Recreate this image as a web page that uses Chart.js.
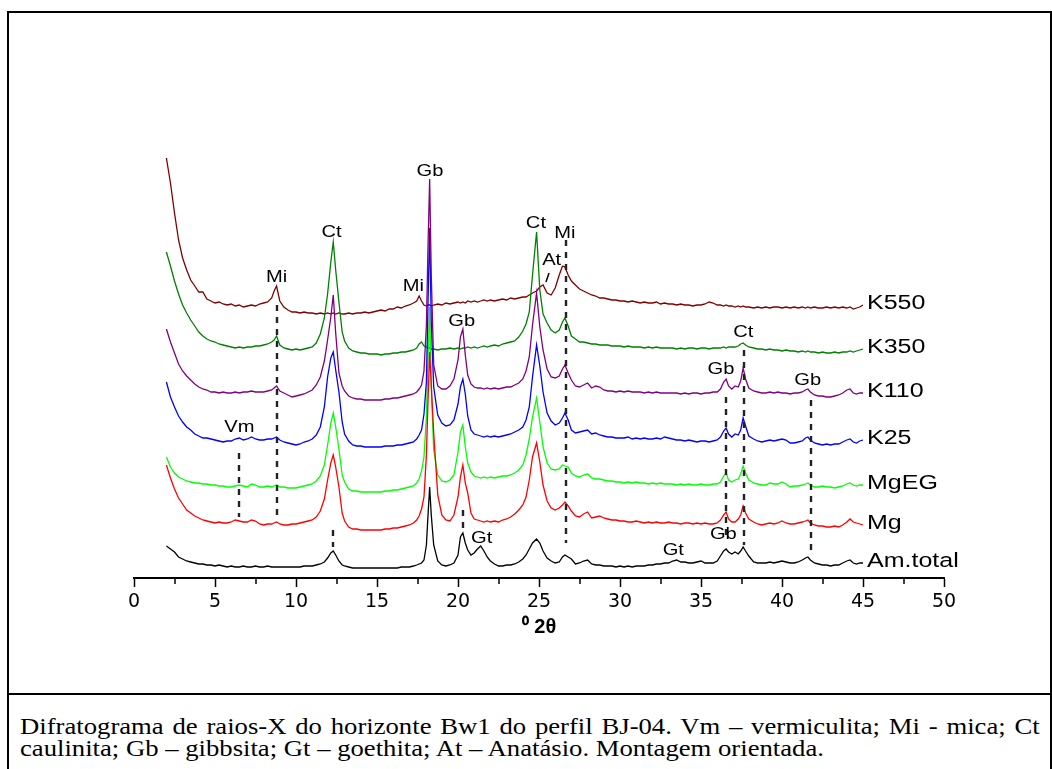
<!DOCTYPE html>
<html>
<head>
<meta charset="utf-8">
<script src="https://cdn.jsdelivr.net/npm/chart.js"></script>
<style>
  body { margin: 0; background: #fff; }
  .frame { position: absolute; left: 7px; top: 11px; width: 1045px; height: 780px; border: 2px solid #000; box-sizing: border-box; }
  .divider { position: absolute; left: 7px; top: 693px; width: 1045px; height: 2px; background: #000; }
  #xrd { position: absolute; left: 0; top: 0; }
  .caption { position: absolute; left: 20px; top: 716px; width: 879px; transform: scaleX(1.16); transform-origin: 0 0;
             font: 23px/22px "Liberation Serif", "Times New Roman", serif; color: #000; }
  .caption .l1 { text-align: justify; text-align-last: justify; }
</style>
</head>
<body>
<div class="frame"></div>
<div class="divider"></div>
<canvas id="xrd" width="1052" height="690"></canvas>
<div class="caption">
  <div class="l1">Difratograma de raios-X do horizonte Bw1 do perfil BJ-04. Vm – vermiculita; Mi - mica; Ct</div>
  <div>caulinita; Gb – gibbsita; Gt – goethita; At – Anatásio. Montagem orientada.</div>
</div>
<script>
// 2θ positions (degrees), shared by every trace
const twoTheta = [
  2.0, 2.25, 2.5, 2.75, 3.0, 3.25, 3.5, 3.75, 4.0, 4.25, 4.5, 4.75,
  5.0, 5.25, 5.5, 5.75, 6.0, 6.25, 6.5, 6.75, 7.0, 7.25, 7.5, 7.75, 8.0, 8.25, 8.5,
  8.65, 8.8, 9.0, 9.25, 9.5, 9.75, 10.0, 10.25, 10.5, 10.75, 11.0, 11.25, 11.5, 11.75,
  11.95, 12.15, 12.3, 12.45, 12.65, 12.85, 13.0, 13.25, 13.5, 13.75,
  14.0, 14.25, 14.5, 14.75, 15.0, 15.25, 15.5, 15.75, 16.0, 16.25, 16.5, 16.75, 17.0, 17.25,
  17.45, 17.6, 17.75, 17.9, 18.05, 18.15, 18.25, 18.35, 18.5, 18.75, 19.0, 19.25, 19.5, 19.75,
  20.0, 20.15, 20.3, 20.45, 20.6, 20.8, 21.0, 21.2, 21.4, 21.6, 21.8, 22.0,
  22.25, 22.5, 22.75, 23.0, 23.25, 23.5, 23.75, 24.0, 24.2, 24.4,
  24.6, 24.85, 25.05, 25.25, 25.5, 25.75, 26.0, 26.25, 26.45, 26.6, 26.8, 27.0,
  27.25, 27.5, 27.75, 28.0, 28.25, 28.5, 28.75, 29.0, 29.25, 29.5, 29.75, 30.0,
  30.25, 30.5, 30.75, 31.0, 31.25, 31.5, 31.75, 32.0, 32.25, 32.5, 32.75, 33.0,
  33.25, 33.5, 33.75, 34.0, 34.25, 34.5, 34.75, 35.0, 35.25, 35.5, 35.75, 36.0,
  36.2, 36.4, 36.55, 36.7, 36.9, 37.1, 37.3, 37.45, 37.6, 37.75, 37.95, 38.25,
  38.5, 38.75, 39.0, 39.25, 39.5, 39.75, 40.0, 40.25, 40.5, 40.75, 41.0, 41.25,
  41.45, 41.6, 41.75, 42.0, 42.25, 42.5, 42.75, 43.0, 43.25, 43.5, 43.75,
  44.0, 44.2, 44.4, 44.6, 44.8, 45.0
];

// intensities above each trace's own baseline
const k550 = [
  155, 130, 100, 73, 55, 43, 33, 27, 21, 21, 14, 12,
  10, 11, 9, 8, 9, 7, 8, 6, 7, 8, 7, 9, 10, 11, 15,
  22, 27, 12, 6, 3, 1, 1, 0, 1, 0, 0, -1, 0, -1,
  0, -1, 0, -1, 0, -1, -1, 0, -1, 0,
  0, 1, 0, 1, 2, 3, 2, 4, 4, 6, 5, 7, 8, 10,
  12, 17, 12, 8, 7, 8, 8, 7, 8, 9, 8, 10, 9, 10,
  11, 10, 11, 10, 12, 11, 12, 11, 12, 13, 12, 13,
  12, 13, 14, 13, 15, 14, 15, 16, 16, 18,
  20, 22, 26, 28, 20, 18, 25, 38, 47, 46, 38, 32,
  28, 24, 22, 20, 18, 17, 15, 15, 14, 13, 13, 12,
  12, 11, 12, 11, 10, 11, 10, 10, 11, 9, 10, 9,
  9, 8, 9, 8, 8, 7, 8, 8, 9, 11, 10, 8,
  8, 7, 8, 7, 7, 6, 7, 6, 7, 6, 6, 5,
  6, 5, 6, 5, 6, 6, 5, 6, 5, 6, 5, 6,
  5, 6, 5, 6, 5, 5, 6, 5, 6, 5, 6,
  5, 6, 4, 5, 6, 8
];
const k350 = [
  98, 84, 69, 56, 45, 37, 30, 24, 18, 14, 11, 9,
  8, 6, 5, 4, 3, 2, 3, 2, 3, 3, 4, 4, 5, 6, 8,
  10, 14, 5, 2, 1, 0, 1, 0, 1, 2, 3, 7, 16, 32,
  56, 88, 108, 80, 48, 18, 9, 2, -1, -2,
  -3, -3, -4, -4, -4, -5, -4, -4, -3, -3, -2, -2, -1, 0,
  2, 6, 8, 4, 3, 2, 2, 1, 1, 0, 1, 1, 2, 1,
  2, 1, 2, 2, 3, 2, 3, 2, 3, 4, 3, 4,
  5, 4, 6, 7, 8, 9, 13, 19, 26, 38,
  75, 118, 60, 36, 27, 20, 17, 20, 28, 32, 24, 14,
  11, 8, 8, 7, 6, 6, 5, 5, 5, 4, 4, 4,
  3, 4, 3, 3, 3, 2, 3, 2, 3, 2, 2, 2,
  2, 1, 2, 1, 2, 2, 1, 2, 2, 1, 2, 2,
  2, 3, 2, 3, 3, 3, 4, 6, 7, 5, 3, 2,
  1, 1, 0, 1, 0, 0, -1, 0, -1, -1, -2, -1,
  -2, -1, -2, -2, -3, -2, -3, -3, -2, -3, -2,
  -2, -1, -2, -1, 0, 1
];
const k110 = [
  66, 53, 42, 31, 24, 19, 15, 11, 8, 6, 5, 3,
  3, 2, 3, 2, 2, 3, 2, 3, 3, 4, 3, 3, 3, 4, 5,
  7, 9, 4, 2, 0, -2, -1, 0, 1, 3, 5, 10, 18, 34,
  55, 78, 100, 62, 22, 9, 4, -1, -3, -4,
  -4, -5, -5, -5, -5, -5, -4, -4, -3, -3, -2, -1, 0, 1,
  3, 6, 10, 24, 70, 150, 216, 120, 30, 9, 6, 6, 9, 16,
  35, 58, 66, 40, 20, 11, 8, 7, 7, 6, 7, 6,
  7, 6, 7, 8, 8, 10, 12, 16, 24, 38,
  70, 102, 68, 45, 26, 18, 17, 19, 26, 30, 22, 15,
  9, 8, 10, 12, 7, 9, 8, 5, 4, 4, 3, 4,
  3, 4, 3, 3, 3, 2, 3, 2, 3, 2, 2, 2,
  2, 2, 1, 2, 1, 2, 2, 1, 2, 2, 3, 3,
  6, 13, 16, 9, 6, 9, 8, 14, 27, 16, 7, 4,
  3, 2, 2, 3, 2, 3, 2, 2, 1, 2, 2, 3,
  5, 6, 3, 0, -1, -1, -2, -2, -1, 0, 2,
  5, 6, 2, 1, 2, 2
];
const k25 = [
  60, 45, 35, 26, 20, 15, 12, 8, 6, 4, 4, 3,
  2, 1, 0, 1, 1, 3, 4, 2, 3, 5, 3, 2, 2, 3, 3,
  4, 5, 2, 0, -1, -2, -3, -2, 0, 1, 3, 7, 15, 35,
  65, 84, 90, 72, 50, 20, 8, 1, -3, -4,
  -4, -5, -5, -5, -5, -5, -4, -4, -4, -3, -3, -2, -1, 0,
  3, 7, 12, 28, 60, 140, 214, 120, 55, 27, 19, 16, 17, 22,
  38, 55, 63, 48, 26, 12, 8, 7, 6, 5, 6, 5,
  6, 5, 6, 7, 8, 10, 12, 15, 22, 35,
  65, 97, 76, 50, 29, 21, 17, 19, 24, 29, 22, 12,
  9, 10, 11, 12, 8, 9, 7, 6, 5, 5, 4, 4,
  4, 5, 3, 4, 3, 4, 3, 3, 4, 3, 5, 4,
  3, 2, 2, 1, 2, 1, 0, 1, 1, 0, 1, 2,
  5, 11, 14, 8, 5, 8, 7, 12, 24, 16, 6, 3,
  1, 0, 1, 2, 1, 2, 3, 2, -1, -1, 0, 1,
  4, 5, 2, -1, -2, -3, -2, -3, -2, -2, 0,
  2, 3, 0, -1, 1, 2
];
const mgEG = [
  30, 20, 14, 10, 8, 6, 5, 4, 4, 3, 3, 2,
  2, 1, 1, 0, 0, 1, 2, 1, 0, 3, 2, 0, 0, 1, 0,
  1, 2, 0, 0, -1, -1, -1, 0, 1, 2, 3, 6, 11, 22,
  42, 64, 74, 60, 38, 12, 5, -2, -4, -4,
  -5, -5, -5, -5, -5, -5, -4, -4, -3, -3, -2, -1, 0, 1,
  4, 8, 16, 30, 70, 130, 180, 100, 37, 12, 6, 5, 7, 12,
  35, 55, 62, 40, 24, 15, 11, 10, 9, 10, 9, 10,
  9, 10, 11, 11, 12, 14, 17, 22, 32, 48,
  70, 89, 65, 40, 24, 18, 17, 18, 22, 21, 20, 14,
  11, 10, 12, 13, 9, 8, 8, 7, 6, 6, 5, 5,
  4, 5, 4, 5, 4, 4, 3, 4, 3, 4, 3, 3,
  3, 2, 3, 2, 3, 2, 2, 3, 2, 2, 3, 3,
  5, 11, 14, 7, 5, 7, 8, 13, 21, 14, 7, 4,
  3, 2, 2, 4, 3, 3, 5, 3, 0, 1, 1, 2,
  3, 4, 2, 0, 0, 1, 0, 0, -1, 0, 1,
  3, 4, 2, 1, 2, 2
];
const mg = [
  60, 47, 36, 27, 21, 15, 12, 9, 7, 5, 4, 3,
  2, 3, 2, 2, 3, 5, 4, 3, 3, 5, 4, 1, 0, 1, 1,
  2, 3, 1, 0, 0, 1, 1, 2, 3, 4, 5, 8, 14, 26,
  45, 62, 70, 58, 38, 12, 4, -2, -4, -4,
  -5, -5, -5, -5, -5, -5, -4, -4, -3, -3, -2, -1, 0, 2,
  5, 9, 16, 28, 70, 125, 173, 140, 92, 30, 10, 5, 4, 10,
  28, 48, 60, 42, 32, 12, 6, 5, 4, 3, 4, 3,
  4, 3, 5, 6, 8, 11, 15, 20, 28, 45,
  68, 82, 63, 40, 24, 17, 15, 17, 20, 23, 19, 14,
  9, 8, 11, 13, 7, 8, 9, 7, 6, 5, 5, 4,
  4, 3, 3, 4, 3, 2, 3, 2, 3, 2, 2, 3,
  2, 2, 1, 2, 2, 1, 2, 1, 2, 1, 1, 2,
  5, 10, 13, 6, 3, 3, 6, 10, 19, 12, 6, 3,
  1, 0, 1, 2, 1, 2, 4, 2, 1, 1, 2, 3,
  4, 5, 2, 0, -1, -1, -2, -2, -1, -2, 0,
  3, 6, 3, 2, 1, 0
];
const amTotal = [
  19, 16, 13, 8, 6, 4, 3, 2, 1, 1, 0, 0,
  -1, 0, -1, -2, -1, -2, -2, -1, -2, -2, -1, -2, -2, -1, -2,
  -2, -2, -2, -2, -2, -2, -2, -2, -1, -1, -1, 0, 1, 3,
  7, 12, 14, 10, 4, 0, -1, -2, -3, -3,
  -3, -3, -3, -3, -3, -3, -3, -3, -3, -3, -2, -2, -2, -1,
  0, 1, 2, 5, 20, 50, 78, 50, 20, 4, 0, -1, 0, 2,
  10, 28, 32, 22, 15, 10, 12, 16, 19, 14, 8, 4,
  1, -1, -1, 0, 0, 1, 3, 6, 10, 16,
  22, 26, 22, 14, 7, 4, 2, 3, 8, 10, 8, 6,
  1, 2, 4, 5, 1, 0, 0, -1, -1, -1, -2, -1,
  -2, -1, -2, -1, -1, -1, 0, 0, 1, 1, 2, 2,
  4, 5, 3, 3, 2, 2, 3, 4, 2, 2, 2, 4,
  9, 14, 16, 13, 11, 13, 11, 14, 18, 14, 9, 3,
  2, 2, 2, 3, 2, 3, 4, 3, 2, 2, 3, 5,
  7, 8, 5, 2, 1, 0, 0, -1, 0, 0, 2,
  4, 5, 2, 1, 2, 2
];

const traceNames = ['K550', 'K350', 'K110', 'K25', 'MgEG', 'Mg', 'Am.total'];
const traceValues = [k550, k350, k110, k25, mgEG, mg, amTotal];
// vertical shift used to stack the patterns
const traceOffsets = [265, 228, 183, 136, 91, 53, 13];

const traceColors = ['#800000', '#008000', '#800080', '#0000ff', '#00ff00', '#ff0000', '#000000'];
const drawOrder = [5, 4, 0, 1, 3, 2, 6];

// mineral labels: text, 2θ, stacked intensity
const peakLabels = [
  ['Mi', 8.8, 301], ['Ct', 12.2, 346], ['Mi', 17.24, 292], ['Gb', 18.27, 407],
  ['Gb', 20.23, 257], ['Ct', 24.81, 355], ['Mi', 26.6, 345], ['At', 25.78, 318],
  ['Ct', 37.61, 246], ['Gb', 36.23, 209], ['Gb', 41.59, 198], ['Vm', 6.5, 151],
  ['Gt', 21.46, 40], ['Gt', 33.29, 28], ['Gb', 36.38, 44]
];
// dashed reflection guides: 2θ, from, to
const guideLines = [
  [6.5, 125, 61], [8.8, 273, 58], [12.3, 48, 31], [20.33, 68, 48],
  [26.65, 338, 35], [36.52, 181, 40], [37.65, 228, 33], [41.8, 178, 25]
];

function stretchedText(ctx, text, px, py, size, align) {
  ctx.save();
  ctx.translate(px, py);
  ctx.scale(1.22, 1);
  ctx.font = size + 'px "Liberation Sans", Arial, sans-serif';
  ctx.textAlign = align;
  ctx.textBaseline = 'middle';
  ctx.fillStyle = '#000';
  ctx.fillText(text, 0, 0);
  ctx.restore();
}

const annotations = {
  id: 'annotations',
  afterDraw(chart) {
    const { ctx, scales: { x, y } } = chart;

    // minor ticks between the labelled ones
    ctx.save();
    ctx.strokeStyle = '#000';
    ctx.lineWidth = 1.5;
    for (let t = 2.5; t < 50; t += 5) {
      const px = Math.round(x.getPixelForValue(t));
      ctx.beginPath();
      ctx.moveTo(px, y.bottom);
      ctx.lineTo(px, y.bottom + 6);
      ctx.stroke();
    }
    ctx.restore();

    peakLabels.forEach(([txt, t, v]) => {
      stretchedText(ctx, txt, x.getPixelForValue(t), y.getPixelForValue(v), 16.5, 'center');
    });

    // leader for the anatase label
    ctx.save();
    ctx.strokeStyle = '#000';
    ctx.lineWidth = 1.5;
    ctx.beginPath();
    ctx.moveTo(x.getPixelForValue(25.43), y.getPixelForValue(296));
    ctx.lineTo(x.getPixelForValue(25.62), y.getPixelForValue(305));
    ctx.stroke();

    ctx.strokeStyle = '#222';
    ctx.lineWidth = 2.4;
    ctx.setLineDash([6, 6]);
    guideLines.forEach(([t, v1, v2]) => {
      const px = Math.round(x.getPixelForValue(t));
      ctx.beginPath();
      ctx.moveTo(px, y.getPixelForValue(v1));
      ctx.lineTo(px, y.getPixelForValue(v2));
      ctx.stroke();
    });
    ctx.restore();

    // sample names at the end of each pattern
    traceNames.forEach((name, i) => {
      const vals = traceValues[i];
      const last = vals[vals.length - 1] + traceOffsets[i];
      stretchedText(ctx, name, x.getPixelForValue(45) + 4, y.getPixelForValue(last) - 2, 20.5, 'left');
    });
  }
};

new Chart(document.getElementById('xrd'), {
  type: 'line',
  data: {
    datasets: traceValues.map((vals, i) => ({
      label: traceNames[i],
      data: twoTheta.map((t, j) => ({ x: t, y: vals[j] + traceOffsets[i] })),
      borderColor: traceColors[i],
      borderWidth: 1.3,
      pointRadius: 0,
      fill: false,
      tension: 0,
      order: drawOrder[i]
    }))
  },
  options: {
    responsive: false,
    animation: false,
    layout: { padding: { left: 134, right: 108, top: 100, bottom: 50 } },
    scales: {
      x: {
        type: 'linear',
        min: 0,
        max: 50,
        afterFit: (scale) => { scale.height = 62; },
        ticks: { stepSize: 5, color: '#000', padding: 4, maxRotation: 0, autoSkip: false,
                 font: { family: '"DejaVu Sans", sans-serif', size: 19 } },
        grid: { drawOnChartArea: false, drawTicks: true, tickLength: 9, tickWidth: 1.5, color: '#000' },
        border: { display: true, color: '#000', width: 2 },
        title: { display: true, text: '⁰ 2θ', color: '#000', padding: { top: 0, bottom: 1 },
                 font: { family: '"Liberation Sans", Arial, sans-serif', size: 20, weight: 'bold' } }
      },
      y: { display: false, min: 0, max: 478 }
    },
    plugins: { legend: { display: false }, tooltip: { enabled: false } }
  },
  plugins: [annotations]
});
</script>
</body>
</html>
